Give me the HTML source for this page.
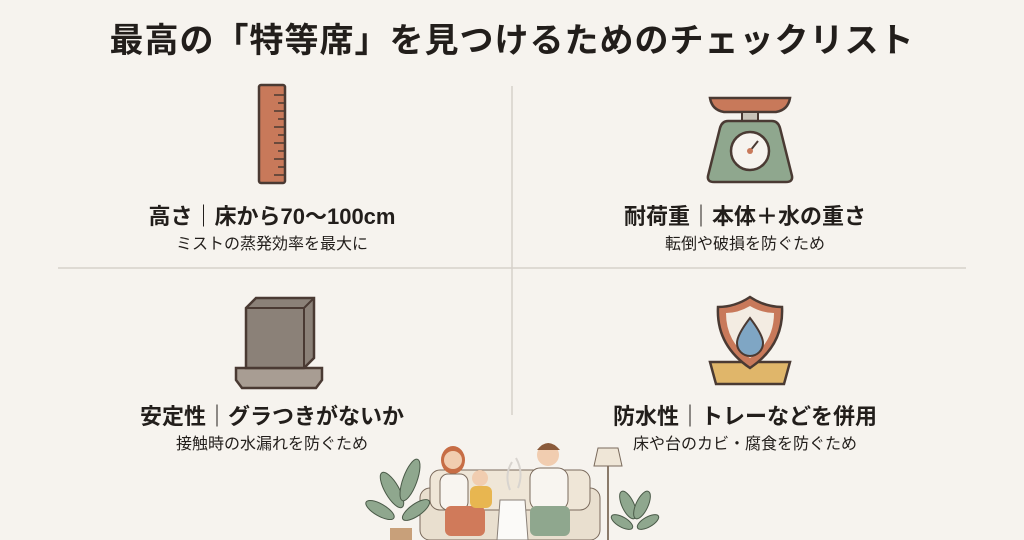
<!DOCTYPE html>
<html><head><meta charset="utf-8"><style>
body{margin:0;width:1024px;height:540px;background:#f6f3ee;overflow:hidden;position:relative;font-family:"Liberation Sans","Noto Sans CJK JP",sans-serif;color:#221e1b}
.t{position:absolute;left:0;width:1024px;text-align:center;top:13px;font-size:34px;font-weight:700;letter-spacing:1px}
.h{position:absolute;width:460px;text-align:center;font-size:22px;font-weight:700}
.s{position:absolute;width:460px;text-align:center;font-size:16px}
svg{position:absolute;left:0;top:0}
</style></head><body>
<div class="t">最高の「特等席」を見つけるためのチェックリスト</div>
<svg width="1024" height="540">
<line x1="512" y1="86" x2="512" y2="415" stroke="#d6d1ca" stroke-width="1.5"/>
<line x1="58" y1="268" x2="966" y2="268" stroke="#d6d1ca" stroke-width="1.5"/>
<rect x="259" y="85" width="26" height="98" rx="2" fill="#c8795a" stroke="#4a3a33" stroke-width="2.5"/>
<g stroke="#4a3a33" stroke-width="1.5">
<line x1="274" y1="95" x2="285" y2="95"/><line x1="278" y1="103" x2="285" y2="103"/><line x1="274" y1="111" x2="285" y2="111"/><line x1="278" y1="119" x2="285" y2="119"/><line x1="274" y1="127" x2="285" y2="127"/><line x1="278" y1="135" x2="285" y2="135"/><line x1="274" y1="143" x2="285" y2="143"/><line x1="278" y1="151" x2="285" y2="151"/><line x1="274" y1="159" x2="285" y2="159"/><line x1="278" y1="167" x2="285" y2="167"/><line x1="274" y1="175" x2="285" y2="175"/></g>
<path d="M710 98 H790 Q788 110 776 112 H724 Q712 110 710 98Z" fill="#c8795a" stroke="#4a3a33" stroke-width="2.5"/>
<rect x="742" y="112" width="16" height="9" fill="#c9c3b8" stroke="#4a3a33" stroke-width="2"/>
<path d="M728 121 H772 Q778 121 780 128 L792 176 Q793 182 786 182 H714 Q707 182 708 176 L720 128 Q722 121 728 121Z" fill="#8fa78e" stroke="#4a3a33" stroke-width="2.5"/>
<circle cx="750" cy="151" r="19" fill="#f6f3ee" stroke="#4a3a33" stroke-width="2.5"/>
<line x1="750" y1="151" x2="758" y2="141" stroke="#4a3a33" stroke-width="2"/>
<circle cx="750" cy="151" r="3" fill="#c8795a"/>
<path d="M236 368 H322 V380 L316 388 H242 L236 380Z" fill="#a89d93" stroke="#4a3a33" stroke-width="2.5"/>
<path d="M246 308 L256 298 H314 V358 L304 368 H246Z" fill="#8b8178" stroke="#4a3a33" stroke-width="2.5"/>
<path d="M246 308 H304 V368 M304 308 L314 298" fill="none" stroke="#4a3a33" stroke-width="2"/>
<path d="M710 362 H790 L784 384 H716Z" fill="#e0b66a" stroke="#4a3a33" stroke-width="2.5"/>
<path d="M750 297 Q765 307 782 307 Q784 345 750 368 Q716 345 718 307 Q735 307 750 297Z" fill="#c8795a" stroke="#4a3a33" stroke-width="2.5"/>
<path d="M750 306 Q762 313 774 313 Q774 342 750 358 Q726 342 726 313 Q738 313 750 306Z" fill="#f3ece2"/>
<path d="M750 318 Q763 335 763 343 A13 13 0 0 1 737 343 Q737 335 750 318Z" fill="#7fa6c4" stroke="#4a3a33" stroke-width="2"/>
<rect x="420" y="488" width="180" height="52" rx="10" fill="#e9dfcf" stroke="#7a6a5c"/>
<rect x="430" y="470" width="160" height="40" rx="10" fill="#efe6d7" stroke="#7a6a5c"/>
<ellipse cx="453" cy="460" rx="12" ry="14" fill="#c76d45"/>
<circle cx="453" cy="460" r="9" fill="#f1cdb0"/>
<rect x="440" y="474" width="28" height="36" rx="8" fill="#f8f5f0" stroke="#7a6a5c"/>
<rect x="445" y="506" width="40" height="30" rx="6" fill="#d07a5a"/>
<circle cx="480" cy="478" r="8" fill="#f1cdb0"/>
<rect x="470" y="486" width="22" height="22" rx="6" fill="#e8b650"/>
<circle cx="548" cy="455" r="11" fill="#f1cdb0"/>
<path d="M537 450 Q548 436 560 450Z" fill="#8a5a3a"/>
<rect x="530" y="468" width="38" height="42" rx="10" fill="#f8f5f0" stroke="#7a6a5c"/>
<rect x="530" y="506" width="40" height="30" rx="6" fill="#8fa78e"/>
<path d="M500 500 H525 L528 540 H497Z" fill="#fbfaf8" stroke="#8a8078"/>
<path d="M510 490 Q504 475 512 462 M518 488 Q524 472 516 458" fill="none" stroke="#d8d4cf" stroke-width="2"/>
<line x1="608" y1="465" x2="608" y2="540" stroke="#8a7a6a" stroke-width="2"/>
<path d="M598 448 H618 L622 466 H594Z" fill="#efe6d7" stroke="#7a6a5c"/>
<g fill="#8fa78e" stroke="#4a5a48"><ellipse cx="392" cy="490" rx="7" ry="20" transform="rotate(-30 392 490)"/><ellipse cx="410" cy="480" rx="7" ry="22" transform="rotate(20 410 480)"/><ellipse cx="380" cy="510" rx="6" ry="16" transform="rotate(-60 380 510)"/><ellipse cx="416" cy="510" rx="6" ry="16" transform="rotate(55 416 510)"/>
<ellipse cx="628" cy="505" rx="6" ry="15" transform="rotate(-25 628 505)"/><ellipse cx="642" cy="505" rx="6" ry="15" transform="rotate(25 642 505)"/><ellipse cx="622" cy="522" rx="5" ry="12" transform="rotate(-60 622 522)"/><ellipse cx="648" cy="522" rx="5" ry="12" transform="rotate(60 648 522)"/></g>
<rect x="390" y="528" width="22" height="12" fill="#c8a07a"/>
</svg>
<div class="h" style="left:42px;top:199px">高さ｜床から70〜100cm</div>
<div class="s" style="left:42px;top:230px">ミストの蒸発効率を最大に</div>
<div class="h" style="left:515px;top:199px">耐荷重｜本体＋水の重さ</div>
<div class="s" style="left:515px;top:230px">転倒や破損を防ぐため</div>
<div class="h" style="left:42px;top:399px">安定性｜グラつきがないか</div>
<div class="s" style="left:42px;top:430px">接触時の水漏れを防ぐため</div>
<div class="h" style="left:515px;top:399px">防水性｜トレーなどを併用</div>
<div class="s" style="left:515px;top:430px">床や台のカビ・腐食を防ぐため</div>
</body></html>
